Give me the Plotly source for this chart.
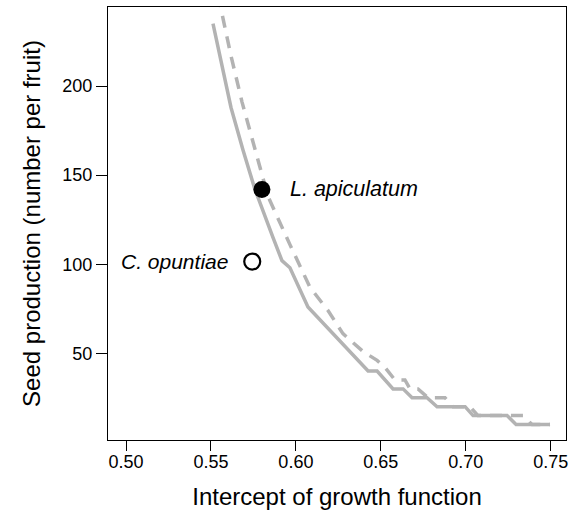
import plotly.graph_objects as go

# Solid curve
solid_x = [0.5512, 0.5559, 0.5618, 0.5689, 0.5759, 0.5865, 0.5918, 0.5965, 0.6071,
           0.6425, 0.6478, 0.6572, 0.6631, 0.6684, 0.6772, 0.6831, 0.6996, 0.7043,
           0.7243, 0.7296, 0.7496]
solid_y = [235, 214, 188, 164, 142, 115, 102, 98, 76,
           40, 40, 30, 30, 25, 25, 20, 20, 15,
           15, 10, 10]

# Dashed curve
dash_x = [0.5542, 0.5559, 0.5618, 0.5683, 0.5759, 0.5836, 0.5965, 0.6083, 0.6189,
          0.6277, 0.6395, 0.6478, 0.6525, 0.6583, 0.6642, 0.6672, 0.6719, 0.6778,
          0.6878, 0.6925, 0.7025, 0.7072, 0.7337, 0.7390, 0.7496]
dash_y = [251, 243, 217, 191, 164, 138, 111, 87, 74,
          61, 51, 46, 42, 35, 35, 30, 30, 25,
          25, 20, 20, 15, 15, 10, 10]

# Species points
species = ["L. apiculatum", "C. opuntiae"]
species_x = [0.5800, 0.5743]
species_y = [142, 101.5]

x_ticks = [0.50, 0.55, 0.60, 0.65, 0.70, 0.75]
y_ticks = [50, 100, 150, 200]

FONT = "Liberation Sans, Arial, Helvetica, sans-serif"
GRAY = "#b3b3b3"

fig = go.Figure()
fig.add_trace(go.Scatter(x=solid_x, y=solid_y, mode="lines",
                         line=dict(color=GRAY, width=3.5), showlegend=False))
fig.add_trace(go.Scatter(x=dash_x, y=dash_y, mode="lines",
                         line=dict(color=GRAY, width=3.5, dash="12px,9px"), showlegend=False))
fig.add_trace(go.Scatter(x=[species_x[0]], y=[species_y[0]], mode="markers",
                         marker=dict(color="black", size=17, line=dict(width=0)),
                         showlegend=False))
fig.add_trace(go.Scatter(x=[species_x[1]], y=[species_y[1]], mode="markers",
                         marker=dict(color="white", size=16, line=dict(color="black", width=2.2)),
                         showlegend=False))

fig.add_annotation(x=species_x[0], y=species_y[0], text="<i>" + species[0] + "</i>",
                   showarrow=False, xanchor="left", yanchor="middle", xshift=26,
                   font=dict(size=21.5, color="black", family=FONT))
fig.add_annotation(x=species_x[1], y=species_y[1], text="<i>" + species[1] + "</i>",
                   showarrow=False, xanchor="right", yanchor="middle", xshift=-22,
                   font=dict(size=21, color="black", family=FONT))

fig.update_layout(
    width=577, height=516,
    margin=dict(l=108, r=11, t=7, b=76, pad=0),
    plot_bgcolor="white", paper_bgcolor="white",
    font=dict(family=FONT, color="black"),
    xaxis=dict(range=[0.4894, 0.759], tickvals=x_ticks,
               ticktext=[f"{v:.2f}" for v in x_ticks],
               showgrid=False, zeroline=False, showline=True, mirror=True,
               linecolor="black", linewidth=1, ticks="outside", ticklen=10,
               tickcolor="black", tickfont=dict(size=18), ticklabelstandoff=-5,
               title=dict(text="Intercept of growth function", font=dict(size=24), standoff=17)),
    yaxis=dict(range=[1.3, 244.4], tickvals=y_ticks,
               showgrid=False, zeroline=False, showline=True, mirror=True,
               linecolor="black", linewidth=1, ticks="outside", ticklen=11,
               tickcolor="black", tickfont=dict(size=18),
               title=dict(text="Seed production (number per fruit)", font=dict(size=24), standoff=14)),
)

fig.write_html("out.html")
